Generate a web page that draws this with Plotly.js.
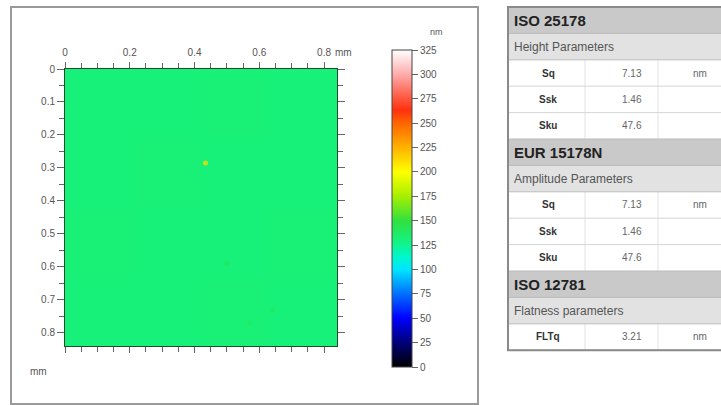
<!DOCTYPE html>
<html>
<head>
<meta charset="utf-8">
<script src="https://cdn.plot.ly/plotly-3.0.1.min.js"></script>
<style>html,body{margin:0;padding:0;background:#fff;}#chart{width:721px;height:405px;}</style>
</head>
<body>
<div id="chart"></div>
<script>
// ---- data ----
// height map (nm), coarse grid: nearly uniform surface
const heightZ = [
  [131, 131, 132, 131],
  [131, 132, 131, 131],
  [132, 131, 131, 132],
  [131, 131, 132, 131]
];
const mapExtent = 0.84;            // mm, field size
// isolated peaks seen on the map
const spotX = [0.434, 0.50, 0.64, 0.57];
const spotY = [0.285, 0.59, 0.73, 0.77];
const spotZ = [212, 142, 144, 140];
const xTickVals = [0, 0.2, 0.4, 0.6, 0.8];
const yTickVals = [0, 0.1, 0.2, 0.3, 0.4, 0.5, 0.6, 0.7, 0.8];
const cbTickVals = [0, 25, 50, 75, 100, 125, 150, 175, 200, 225, 250, 275, 300, 325];
const zMin = 0, zMax = 325;
// table
const standards = ['ISO 25178', 'EUR 15178N', 'ISO 12781'];
const groups = ['Height Parameters', 'Amplitude Parameters', 'Flatness parameters'];
const params = [['Sq', 'Ssk', 'Sku'], ['Sq', 'Ssk', 'Sku'], ['FLTq']];
const values = [['7.13', '1.46', '47.6'], ['7.13', '1.46', '47.6'], ['3.21']];
const units = [['nm', '', ''], ['nm', '', ''], ['nm']];

// ---- helpers ----
const W = 721, H = 405;
const px = x => x / W, py = y => 1 - y / H;
const FONT = 'Liberation Sans, Arial, sans-serif';

const colorscale = [
  [0.000, '#000000'],
  [0.077, '#00007a'],
  [0.154, '#0000ff'],
  [0.231, '#0070ff'],
  [0.308, '#00e6ff'],
  [0.350, '#00f8c8'],
  [0.400, '#16f27c'],
  [0.460, '#30e040'],
  [0.540, '#a8f000'],
  [0.615, '#ffff00'],
  [0.690, '#ffb400'],
  [0.770, '#ff6400'],
  [0.810, '#ff3010'],
  [0.850, '#ff5a40'],
  [0.920, '#ffa8a8'],
  [1.000, '#ffffff']
];

const nCells = heightZ.length;
const traces = [
  {
    type: 'heatmap',
    z: heightZ,
    x0: mapExtent / nCells / 2, dx: mapExtent / nCells,
    y0: mapExtent / nCells / 2, dy: mapExtent / nCells,
    zmin: zMin, zmax: zMax,
    colorscale: colorscale,
    zsmooth: false,
    hoverinfo: 'skip',
    colorbar: {
      x: px(392), xanchor: 'left',
      y: py(208.5), yanchor: 'middle',
      len: 317, lenmode: 'pixels',
      thickness: 20, thicknessmode: 'pixels',
      outlinecolor: '#444', outlinewidth: 1,
      tickvals: cbTickVals,
      ticks: 'outside', ticklen: 6, tickcolor: '#666',
      tickfont: {family: FONT, size: 10, color: '#555'},
      xpad: 0, ypad: 0
    }
  },
  {
    type: 'scatter', mode: 'markers',
    x: spotX, y: spotY,
    marker: {color: spotZ, cmin: zMin, cmax: zMax, colorscale: colorscale, size: 5, line: {width: 0}, opacity: 0.75},
    showlegend: false, hoverinfo: 'skip'
  }
];

const shapes = [
  // left panel frame
  {type: 'rect', xref: 'paper', yref: 'paper', x0: px(11), x1: px(478), y0: py(404), y1: py(7),
   line: {color: '#9a9a9a', width: 2}, fillcolor: 'rgba(0,0,0,0)'}
];
const annotations = [];
const txt = (x, y, text, size, color, bold, anchor) => annotations.push({xref: 'paper', yref: 'paper',
  x: px(x), y: py(y), text: bold ? '<b>' + text + '</b>' : text, showarrow: false,
  xanchor: anchor || 'center', yanchor: 'middle',
  font: {family: FONT, size: size, color: color}});

txt(333, 52, 'mm', 10, '#555', false, 'left');
txt(38, 371, 'mm', 10, '#555', false, 'center');
txt(437, 32, 'nm', 9, '#555', false, 'center');

// ---- table ----
const tL = 508, tR = 723, tTop = 7, rowH = 26.4;
const c1 = 585, c2 = 658;
let row = 0;
const rowRect = (r, fill) => shapes.push({type: 'rect', xref: 'paper', yref: 'paper',
  x0: px(tL), x1: px(tR), y0: py(tTop + (r + 1) * rowH), y1: py(tTop + r * rowH),
  line: {width: 0}, fillcolor: fill, layer: 'below'});
const hLine = (y, color) => shapes.push({type: 'line', xref: 'paper', yref: 'paper',
  x0: px(tL), x1: px(tR), y0: py(y), y1: py(y), line: {color: color, width: 1}});

for (let s = 0; s < standards.length; s++) {
  rowRect(row, '#c9c9c9');
  txt(512, tTop + row * rowH + rowH / 2, standards[s], 15, '#222', true, 'left');
  row++;
  rowRect(row, '#e2e2e2');
  txt(512, tTop + row * rowH + rowH / 2, groups[s], 12, '#555', false, 'left');
  hLine(tTop + row * rowH, '#bbb');
  row++;
  for (let k = 0; k < params[s].length; k++) {
    const yc = tTop + row * rowH + rowH / 2;
    txt(548, yc, params[s][k], 10, '#333', true);
    txt(632, yc, values[s][k], 10, '#666', false);
    if (units[s][k]) txt(700, yc, units[s][k], 10, '#666', false);
    shapes.push({type: 'line', xref: 'paper', yref: 'paper', x0: px(c1), x1: px(c1),
      y0: py(tTop + row * rowH), y1: py(tTop + (row + 1) * rowH), line: {color: '#e2e2e2', width: 1}});
    shapes.push({type: 'line', xref: 'paper', yref: 'paper', x0: px(c2), x1: px(c2),
      y0: py(tTop + row * rowH), y1: py(tTop + (row + 1) * rowH), line: {color: '#e2e2e2', width: 1}});
    hLine(tTop + row * rowH, k === 0 ? '#bbb' : '#d6d6d6');
    row++;
  }
  hLine(tTop + row * rowH, '#bbb');
}
shapes.push({type: 'rect', xref: 'paper', yref: 'paper', x0: px(tL), x1: px(tR),
  y0: py(tTop + row * rowH), y1: py(tTop), line: {color: '#8a8a8a', width: 2}, fillcolor: 'rgba(0,0,0,0)'});

const axFont = {family: FONT, size: 10, color: '#555'};
const layout = {
  width: W, height: H,
  margin: {l: 0, r: 0, t: 0, b: 0},
  paper_bgcolor: '#fff', plot_bgcolor: '#fff',
  showlegend: false,
  xaxis: {
    domain: [px(65), px(337)], range: [0, mapExtent], side: 'top',
    tickvals: xTickVals, ticks: 'outside', ticklen: 6, tickcolor: '#666',
    minor: {dtick: 0.05, tick0: 0, ticks: 'outside', ticklen: 5, tickcolor: '#666'},
    showgrid: false, zeroline: false, showline: true, linecolor: '#1f4a2c', linewidth: 1,
    mirror: 'ticks', tickfont: axFont, ticklabelstandoff: 2
  },
  yaxis: {
    domain: [py(346), py(69)], range: [mapExtent, 0],
    tickvals: yTickVals, ticks: 'outside', ticklen: 7, tickcolor: '#666',
    minor: {dtick: 0.05, tick0: 0, ticks: 'outside', ticklen: 5, tickcolor: '#666'},
    showgrid: false, zeroline: false, showline: true, linecolor: '#1f4a2c', linewidth: 1,
    mirror: 'ticks', tickfont: axFont
  },
  shapes: shapes,
  annotations: annotations
};

Plotly.newPlot('chart', traces, layout, {displayModeBar: false, staticPlot: true});
</script>
</body>
</html>
